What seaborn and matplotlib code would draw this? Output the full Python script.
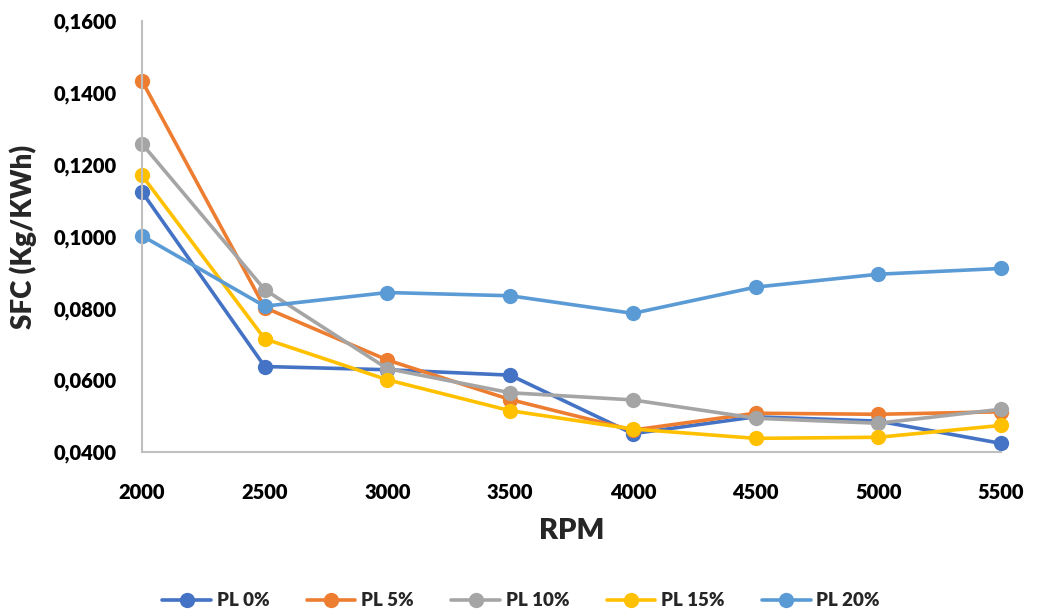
import matplotlib
matplotlib.use("Agg")
import matplotlib.pyplot as plt
import seaborn as sns
import pandas as pd
from matplotlib.ticker import FuncFormatter

# Engine speed (RPM)
rpm = [2000, 2500, 3000, 3500, 4000, 4500, 5000, 5500]

# Specific fuel consumption (Kg/KWh) per plastic-fuel blend
pl_0 = [0.1124, 0.0638, 0.0629, 0.0614, 0.0451, 0.0498, 0.0486, 0.0424]
pl_5 = [0.1433, 0.0802, 0.0656, 0.0546, 0.0461, 0.0508, 0.0505, 0.0512]
pl_10 = [0.1258, 0.0852, 0.0632, 0.0565, 0.0545, 0.0494, 0.0480, 0.0519]
pl_15 = [0.1170, 0.0715, 0.0601, 0.0515, 0.0464, 0.0438, 0.0441, 0.0474]
pl_20 = [0.1002, 0.0806, 0.0844, 0.0835, 0.0786, 0.0859, 0.0895, 0.0911]

series_names = ["PL 0%", "PL 5%", "PL 10%", "PL 15%", "PL 20%"]
series_values = [pl_0, pl_5, pl_10, pl_15, pl_20]
colors = ["#4472C4", "#ED7D31", "#A5A5A5", "#FFC000", "#5B9BD5"]

y_ticks = [0.04, 0.06, 0.08, 0.10, 0.12, 0.14, 0.16]

df = pd.DataFrame(
    [(r, v, name) for name, vals in zip(series_names, series_values) for r, v in zip(rpm, vals)],
    columns=["RPM", "SFC", "Blend"],
)

sns.set_theme(style="white")
plt.rcParams["font.family"] = ["Lato", "DejaVu Sans"]

fig = plt.figure(figsize=(10.42, 6.09), dpi=100)
ax = fig.add_axes([142 / 1042, 1 - 452 / 609, (1001 - 142) / 1042, (452 - 21) / 609])

sns.lineplot(
    data=df, x="RPM", y="SFC", hue="Blend", hue_order=series_names,
    palette=colors, marker="o", markersize=11, markeredgewidth=0,
    linewidth=2.6, ax=ax, legend=True, clip_on=False,
)

ax.set_xlim(2000, 5500)
ax.set_ylim(0.04, 0.16)
ax.set_xticks(rpm)
ax.set_xticklabels([str(r) for r in rpm])
ax.set_yticks(y_ticks)
ax.yaxis.set_major_formatter(FuncFormatter(lambda v, _: f"{v:.4f}".replace(".", ",")))

for lbl in ax.get_xticklabels():
    lbl.set_fontweight("heavy")
    lbl.set_fontsize(14.5)
    lbl.set_color("black")
for lbl in ax.get_yticklabels():
    lbl.set_fontweight("heavy")
    lbl.set_fontsize(14.5)
    lbl.set_color("black")
ax.tick_params(axis="x", length=0, pad=22)
ax.tick_params(axis="y", length=0, pad=18)

ax.set_xlabel("RPM", fontsize=21, fontweight="heavy", labelpad=12)
ax.set_ylabel("SFC (Kg/KWh)", fontsize=20, fontweight="heavy", labelpad=12)

for side in ["top", "right"]:
    ax.spines[side].set_visible(False)
for side in ["left", "bottom"]:
    ax.spines[side].set_color("#BFBFBF")
    ax.spines[side].set_linewidth(1.5)
ax.grid(False)

handles, labels = ax.get_legend_handles_labels()
ax.legend(
    handles, labels, loc="center", bbox_to_anchor=(0.5 * 1042 / (1001 - 142) - 142 / (1001 - 142), -0.345),
    ncol=5, frameon=False, handlelength=2.6, columnspacing=2.0, handletextpad=0.3,
    prop={"weight": "heavy", "size": 13.5},
)

fig.savefig("out.png", dpi=100)
